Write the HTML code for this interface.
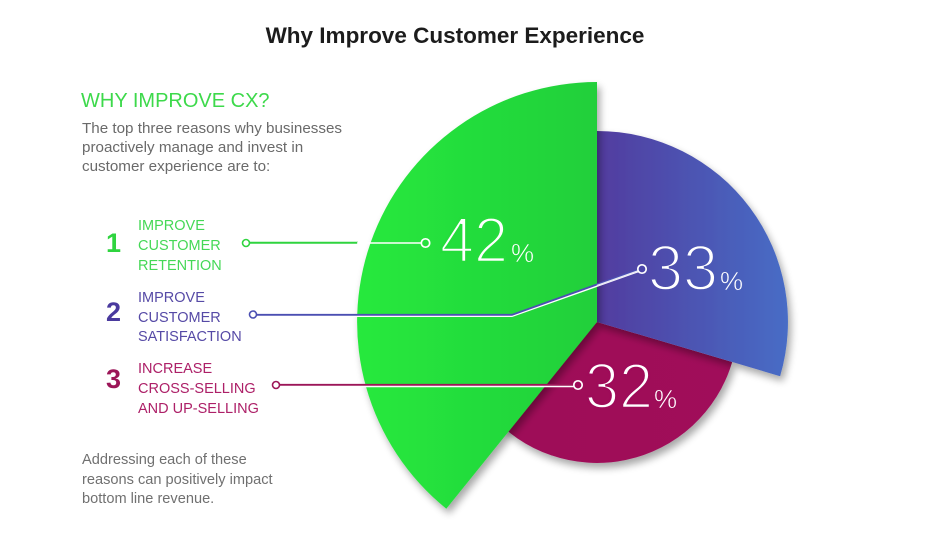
<!DOCTYPE html>
<html>
<head>
<meta charset="utf-8">
<style>
  html,body{margin:0;padding:0;background:#fff;}
  svg{display:block;}
  text{font-family:"Liberation Sans", sans-serif;}
</style>
</head>
<body>
<svg width="934" height="535" viewBox="0 0 934 535" xmlns="http://www.w3.org/2000/svg">
  <defs>
    <linearGradient id="gGreen" x1="357" y1="0" x2="597" y2="0" gradientUnits="userSpaceOnUse">
      <stop offset="0" stop-color="#27e93d"/>
      <stop offset="1" stop-color="#20cf3a"/>
    </linearGradient>
    <linearGradient id="gBlue" x1="597" y1="0" x2="790" y2="0" gradientUnits="userSpaceOnUse">
      <stop offset="0" stop-color="#523c9f"/>
      <stop offset="1" stop-color="#476dc6"/>
    </linearGradient>
    <linearGradient id="gPurple" x1="500" y1="0" x2="740" y2="0" gradientUnits="userSpaceOnUse">
      <stop offset="0" stop-color="#9e0b58"/>
      <stop offset="1" stop-color="#a00a5a"/>
    </linearGradient>
    <filter id="sh" x="-20%" y="-20%" width="140%" height="140%">
      <feGaussianBlur in="SourceAlpha" stdDeviation="4"/>
      <feOffset dx="3" dy="5" result="b"/>
      <feComponentTransfer><feFuncA type="linear" slope="0.35"/></feComponentTransfer>
      <feMerge><feMergeNode/><feMergeNode in="SourceGraphic"/></feMerge>
    </filter>
  </defs>

  <!-- Title -->
  <text x="455" y="43" text-anchor="middle" font-size="22.5" font-weight="bold" fill="#1c1c1c">Why Improve Customer Experience</text>

  <!-- Left text -->
  <text x="81" y="107" font-size="20" fill="#3dd94b">WHY IMPROVE CX?</text>
  <text font-size="15.2" fill="#6a6a6a">
    <tspan x="82" y="133">The top three reasons why businesses</tspan>
    <tspan x="82" y="152">proactively manage and invest in</tspan>
    <tspan x="82" y="171">customer experience are to:</tspan>
  </text>

  <!-- Item 1 -->
  <text x="106" y="252" font-size="27" font-weight="bold" fill="#2fd43f">1</text>
  <text font-size="14.5" fill="#45d856">
    <tspan x="138" y="230">IMPROVE</tspan>
    <tspan x="138" y="250">CUSTOMER</tspan>
    <tspan x="138" y="270">RETENTION</tspan>
  </text>
  <!-- Item 2 -->
  <text x="106" y="321" font-size="27" font-weight="bold" fill="#4a3a9e">2</text>
  <text font-size="14.5" fill="#564aa6">
    <tspan x="138" y="302">IMPROVE</tspan>
    <tspan x="138" y="322">CUSTOMER</tspan>
    <tspan x="138" y="341">SATISFACTION</tspan>
  </text>
  <!-- Item 3 -->
  <text x="106" y="388" font-size="27" font-weight="bold" fill="#9c1658">3</text>
  <text font-size="14.5" fill="#ad2068">
    <tspan x="138" y="373">INCREASE</tspan>
    <tspan x="138" y="393">CROSS-SELLING</tspan>
    <tspan x="138" y="413">AND UP-SELLING</tspan>
  </text>

  <!-- Bottom text -->
  <text font-size="14.6" fill="#707070">
    <tspan x="82" y="464">Addressing each of these</tspan>
    <tspan x="82" y="484">reasons can positively impact</tspan>
    <tspan x="82" y="503">bottom line revenue.</tspan>
  </text>

  <!-- Pie wedges -->
  <path d="M597 322 L732.2 362 A141 141 0 0 1 489 412.6 Z" fill="url(#gPurple)" filter="url(#sh)"/>
  <path d="M597 322 L597 131 A191 191 0 0 1 780.1 376.2 Z" fill="url(#gBlue)" filter="url(#sh)"/>
  <path d="M597 322 L597 82 A240 240 0 0 0 446.3 508.7 Z" fill="url(#gGreen)" filter="url(#sh)"/>

  <!-- Leader line 1 (green) -->
  <line x1="250" y1="244" x2="358" y2="244" stroke="#ffffff" stroke-width="2"/>
  <line x1="250" y1="242.8" x2="358" y2="242.8" stroke="#2fd43f" stroke-width="2"/>
  <line x1="357" y1="243" x2="421" y2="243" stroke="#ffffff" stroke-width="1.6"/>
  <circle cx="246" cy="243" r="3.5" fill="#ffffff" stroke="#2fd43f" stroke-width="1.6"/>
  <circle cx="425.5" cy="243" r="4.2" fill="none" stroke="#ffffff" stroke-width="1.7"/>

  <!-- Leader line 2 (blue) -->
  <polyline points="257,316 512,316 639,271" fill="none" stroke="#ffffff" stroke-width="2"/>
  <polyline points="257,314.8 512,314.8 638,269.8" fill="none" stroke="#4b4fb2" stroke-width="1.8"/>
  <line x1="597" y1="285.6" x2="638" y2="271" stroke="#e8e8f4" stroke-width="1.6"/>
  <circle cx="253" cy="314.5" r="3.5" fill="#ffffff" stroke="#4b4fb2" stroke-width="1.6"/>
  <circle cx="642" cy="269" r="4.2" fill="#4b45a8" stroke="#ffffff" stroke-width="1.7"/>

  <!-- Leader line 3 (purple) -->
  <line x1="280" y1="386.2" x2="574" y2="386.2" stroke="#ffffff" stroke-width="2"/>
  <line x1="280" y1="384.8" x2="574" y2="384.8" stroke="#9c1658" stroke-width="1.8"/>
  <circle cx="276" cy="385" r="3.5" fill="#ffffff" stroke="#9c1658" stroke-width="1.6"/>
  <circle cx="578" cy="385" r="4.2" fill="#9e0b58" stroke="#ffffff" stroke-width="1.7"/>

  <!-- Percent labels (stroke in background colour to thin the glyphs) -->
  <text x="440" y="262" font-size="64" fill="#ffffff" stroke="#24dc3b" stroke-width="2.4" textLength="68" lengthAdjust="spacingAndGlyphs">42</text>
  <text x="511" y="262" font-size="26" fill="#ffffff" stroke="#22d63a" stroke-width="0.5">%</text>

  <text x="648" y="290" font-size="64" fill="#ffffff" stroke="url(#gBlue)" stroke-width="2.4" textLength="70" lengthAdjust="spacingAndGlyphs">33</text>
  <text x="720" y="290" font-size="26" fill="#ffffff" stroke="url(#gBlue)" stroke-width="0.5">%</text>

  <text x="585" y="408" font-size="64" fill="#ffffff" stroke="#9f0b59" stroke-width="2.4" textLength="68" lengthAdjust="spacingAndGlyphs">32</text>
  <text x="654" y="408" font-size="26" fill="#ffffff" stroke="#9f0b59" stroke-width="0.5">%</text>
</svg>
</body>
</html>
